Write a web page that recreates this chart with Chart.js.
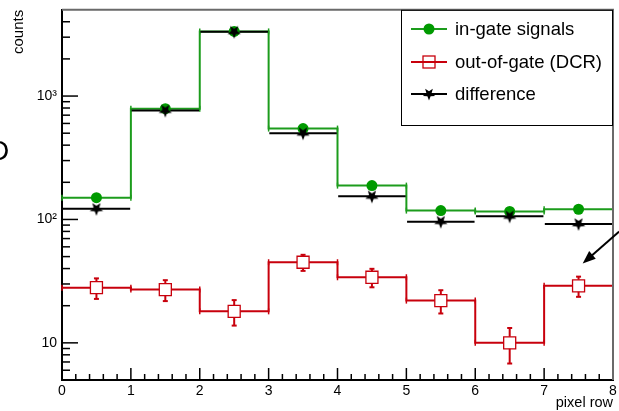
<!DOCTYPE html>
<html><head><meta charset="utf-8">
<script src="https://cdn.jsdelivr.net/npm/chart.js@4/dist/chart.umd.min.js"></script>
<style>html,body{margin:0;padding:0;background:#fff;overflow:hidden}canvas{display:block}</style>
</head><body>
<canvas id="c" width="619" height="411"></canvas>
<script>
// ---- data ----
const binEdges = [0, 1, 2, 3, 4, 5, 6, 7, 8];
const binCenters = [0.5, 1.5, 2.5, 3.5, 4.5, 5.5, 6.5, 7.5];
const inGate = [150, 790, 3340, 545, 188, 118, 116, 121];
const outOfGate = [28, 27, 18, 45, 34, 22, 10, 29];
const outOfGateErr = [5.3, 5.2, 4.2, 6.7, 5.8, 4.7, 3.2, 5.4];
const difference = [122, 763, 3320, 500, 154, 96, 106, 92];
const xTickValues = [0, 1, 2, 3, 4, 5, 6, 7, 8];
const xTickLabels = ['0', '1', '2', '3', '4', '5', '6', '7', '8'];
const yTickValues = [10, 100, 1000];
const yTickLabels = ['10', '10²', '10³'];
const seriesNames = ['in-gate signals', 'out-of-gate (DCR)', 'difference'];

const GREEN = '#1c9c1c', GREEN_M = '#009a00', RED = '#c8000c', BLACK = '#000000';
const FONT = '"Liberation Sans", Arial, Helvetica, sans-serif';
Chart.defaults.font.family = FONT;
Chart.defaults.color = '#000';

function stepData(vals) {
  const d = vals.map((v, i) => ({x: binEdges[i], y: v}));
  d.push({x: binEdges[vals.length], y: vals[vals.length - 1]});
  return d;
}
function segData(vals) {
  const d = [];
  vals.forEach((v, i) => {
    d.push({x: binEdges[i] + 0.01, y: v}, {x: binEdges[i + 1] - 0.01, y: v}, {x: binEdges[i + 1], y: null});
  });
  return d;
}
function pts(vals) { return vals.map((v, i) => ({x: binCenters[i], y: v})); }

function drawStar(ctx, cx, cy, R) {
  const r = R * 0.42;
  ctx.beginPath();
  for (let k = 0; k < 10; k++) {
    const ang = Math.PI / 2 + k * Math.PI / 5;
    const rr = k % 2 === 0 ? R : r;
    const px = cx + rr * Math.cos(ang), py = cy + rr * Math.sin(ang);
    if (k === 0) ctx.moveTo(px, py); else ctx.lineTo(px, py);
  }
  ctx.closePath();
  ctx.fillStyle = BLACK;
  ctx.fill();
}
const starImg = document.createElement('canvas');
starImg.width = 16; starImg.height = 16;
drawStar(starImg.getContext('2d'), 8, 8, 7);

function line(ctx, x1, y1, x2, y2) { ctx.beginPath(); ctx.moveTo(x1, y1); ctx.lineTo(x2, y2); ctx.stroke(); }
function zeroPad(s) { s.paddingLeft = 0; s.paddingRight = 0; s.paddingTop = 0; s.paddingBottom = 0; }

const PLOT_RIGHT = 613;

const rootPlugin = {
  id: 'rootStyle',
  afterLayout(chart) {
    const a = chart.chartArea, x = chart.scales.x;
    if (a.right !== PLOT_RIGHT) {
      a.right = PLOT_RIGHT; a.width = a.right - a.left;
      x.right = PLOT_RIGHT; x.width = x.right - x.left;
      x._labelItems = null;
      x.configure();
    }
  },
  beforeDatasetsDraw(chart) {
    const {ctx, scales: {x, y}} = chart;
    ctx.save();
    [[inGate, GREEN], [outOfGate, RED]].forEach(([vals, col]) => {
      ctx.strokeStyle = col; ctx.lineWidth = 1.5;
      vals.forEach((v, i) => {
        const py = y.getPixelForValue(v);
        [binEdges[i], binEdges[i + 1]].forEach(e => {
          const px = x.getPixelForValue(e);
          line(ctx, px, py - 3, px, py + 3);
        });
      });
    });
    ctx.strokeStyle = RED; ctx.lineWidth = 2;
    outOfGate.forEach((v, i) => {
      const px = x.getPixelForValue(binCenters[i]);
      const y1 = y.getPixelForValue(v + outOfGateErr[i]);
      const y2 = y.getPixelForValue(v - outOfGateErr[i]);
      line(ctx, px, y1, px, y2);
      line(ctx, px - 2.5, y1, px + 2.5, y1);
      line(ctx, px - 2.5, y2, px + 2.5, y2);
    });
    ctx.restore();
  },
  afterDraw(chart) {
    const {ctx, chartArea: a, scales: {x, y}} = chart;
    ctx.save();
    ctx.strokeStyle = '#6a6a6a'; ctx.lineWidth = 2;
    ctx.beginPath(); ctx.moveTo(a.left, a.top); ctx.lineTo(a.right, a.top); ctx.lineTo(a.right, a.bottom); ctx.stroke();
    ctx.strokeStyle = '#000'; ctx.lineWidth = 1.5;
    const ymin = y.min, ymax = y.max;
    [1, 10, 100, 1000].forEach(dec => {
      for (let m = 1; m <= 9; m++) {
        const v = m * dec;
        if (v <= ymin || v >= ymax) continue;
        const py = y.getPixelForValue(v);
        const len = yTickValues.includes(v) ? 16 : 8;
        line(ctx, a.left, py, a.left + len, py);
      }
    });
    for (let i = 1; i < 40; i++) {
      const v = i / 5;
      const px = x.getPixelForValue(v);
      const len = i % 5 === 0 ? 12 : 6;
      line(ctx, px, a.bottom, px, a.bottom - len);
    }
    // legend
    const lx0 = 401, ly0 = a.top, lx1 = a.right, ly1 = 125;
    ctx.strokeStyle = '#000'; ctx.lineWidth = 1;
    ctx.strokeRect(lx0 + 0.5, ly0 + 0.5, lx1 - lx0 - 1, ly1 - ly0);
    const rows = [29, 62, 94];
    const cols = [GREEN, RED, BLACK];
    ctx.font = '18.5px ' + FONT;
    ctx.textBaseline = 'middle'; ctx.textAlign = 'left';
    rows.forEach((ry, k) => {
      ctx.strokeStyle = cols[k]; ctx.lineWidth = 2;
      line(ctx, 411, ry, 447, ry);
      if (k === 0) {
        ctx.fillStyle = GREEN_M; ctx.beginPath(); ctx.arc(429, ry, 5.5, 0, Math.PI * 2); ctx.fill();
      } else if (k === 1) {
        ctx.lineWidth = 1.3; ctx.strokeRect(423, ry - 6, 12, 12);
      } else {
        drawStar(ctx, 429, ry, 6.5);
      }
      ctx.fillStyle = '#000';
      ctx.fillText(seriesNames[k], 455, ry + 1);
    });
    // arrow
    const px0 = x.getPixelForValue(8.09), py0 = y.getPixelForValue(80);
    const px1 = x.getPixelForValue(7.56), py1 = y.getPixelForValue(44);
    const ang = Math.atan2(py1 - py0, px1 - px0);
    ctx.strokeStyle = '#000'; ctx.fillStyle = '#000'; ctx.lineWidth = 2;
    line(ctx, px0, py0, px1 - 8 * Math.cos(ang), py1 - 8 * Math.sin(ang));
    ctx.beginPath();
    ctx.moveTo(px1, py1);
    ctx.lineTo(px1 - 13 * Math.cos(ang) + 5 * Math.sin(ang), py1 - 13 * Math.sin(ang) - 5 * Math.cos(ang));
    ctx.lineTo(px1 - 13 * Math.cos(ang) - 5 * Math.sin(ang), py1 - 13 * Math.sin(ang) + 5 * Math.cos(ang));
    ctx.closePath(); ctx.fill();
    ctx.font = '28px ' + FONT;
    ctx.textBaseline = 'alphabetic';
    ctx.fillText('D', -11, 160);
    ctx.restore();
  }
};

new Chart(document.getElementById('c'), {
  type: 'line',
  data: {
    datasets: [
      {label: seriesNames[0], data: stepData(inGate), borderColor: GREEN, borderWidth: 2, stepped: 'before', pointRadius: 0, fill: false, order: 6},
      {label: seriesNames[1], data: stepData(outOfGate), borderColor: RED, borderWidth: 2, stepped: 'before', pointRadius: 0, fill: false, order: 5},
      {label: seriesNames[2], data: segData(difference), borderColor: BLACK, borderWidth: 2, spanGaps: false, pointRadius: 0, fill: false, order: 4},
      {label: seriesNames[0] + ' pts', data: pts(inGate), showLine: false, pointStyle: 'circle', pointRadius: 5.5, pointBackgroundColor: GREEN_M, pointBorderColor: GREEN_M, pointBorderWidth: 0, order: 3},
      {label: seriesNames[1] + ' pts', data: pts(outOfGate), showLine: false, pointStyle: 'rect', pointRadius: 8.5, pointBackgroundColor: '#fff', pointBorderColor: RED, pointBorderWidth: 1.3, order: 2},
      {label: seriesNames[2] + ' pts', data: pts(difference), showLine: false, pointStyle: starImg, pointRadius: 7, order: 1}
    ]
  },
  options: {
    responsive: false,
    animation: false,
    events: [],
    layout: {padding: {top: 9, right: 2, left: 0, bottom: 0}},
    plugins: {legend: {display: false}, tooltip: {enabled: false}},
    scales: {
      x: {
        type: 'linear', min: 0, max: 8,
        afterBuildTicks: s => { s.ticks = xTickValues.map(v => ({value: v})); },
        ticks: {callback: (v) => xTickLabels[xTickValues.indexOf(v)], font: {size: 14}, padding: 3, maxRotation: 0, autoSkip: false, color: '#000'},
        grid: {display: false, drawTicks: false},
        border: {display: true, color: '#000', width: 2},
        title: {display: true, text: 'pixel row', align: 'end', font: {size: 14.5}, padding: {top: 0, bottom: -1}, color: '#000'},
        afterFit: s => { s.height = 31; zeroPad(s); }
      },
      y: {
        type: 'logarithmic', min: 5, max: 5000,
        afterBuildTicks: s => { s.ticks = yTickValues.map(v => ({value: v})); },
        ticks: {callback: (v) => yTickLabels[yTickValues.indexOf(v)], font: {size: 14}, padding: 5, autoSkip: false, color: '#000'},
        grid: {display: false, drawTicks: false},
        border: {display: true, color: '#000', width: 2},
        title: {display: true, text: 'counts', align: 'end', font: {size: 15}, padding: {top: 10, bottom: 0}, color: '#000'},
        afterFit: s => { s.width = 62; zeroPad(s); }
      }
    }
  },
  plugins: [rootPlugin]
});
</script>
</body></html>
